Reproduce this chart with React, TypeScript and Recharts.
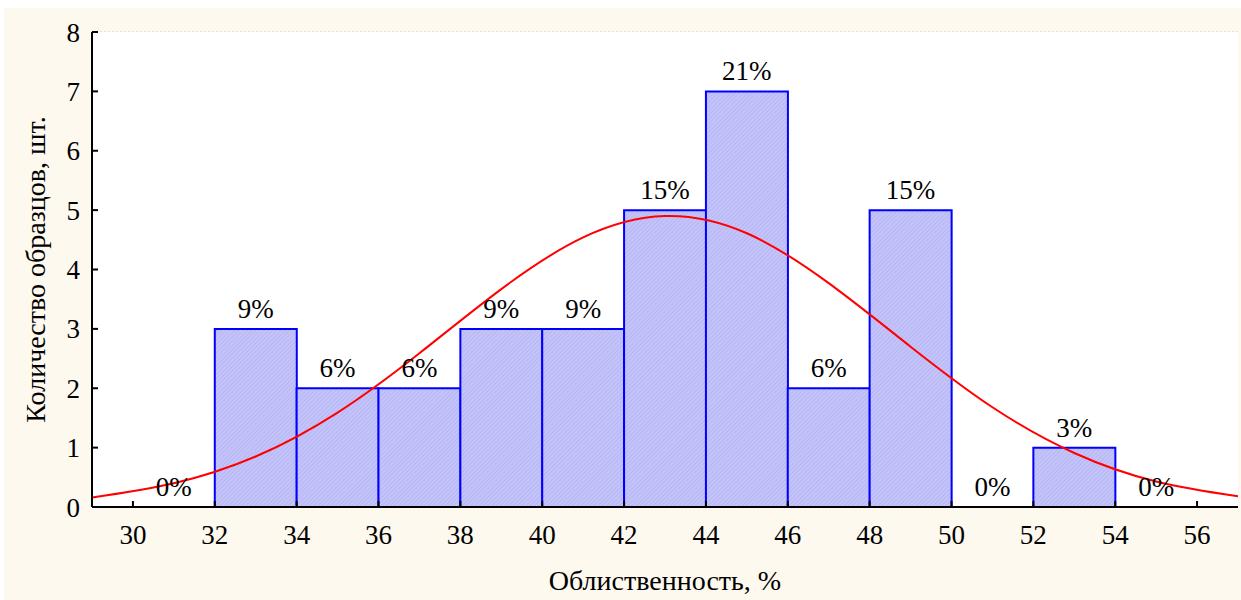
import { ComposedChart, Bar, Line, XAxis, YAxis, CartesianGrid, LabelList } from 'recharts';

// bin centres (2 %-wide bins), the fitted normal curve is sampled at the same x
const binCenters = [29, 31, 33, 35, 37, 39, 41, 43, 45, 47, 49, 51, 53, 55, 57];
const counts = [null, 0, 3, 2, 2, 3, 3, 5, 7, 2, 5, 0, 1, 0, null];
const percentLabels = ['', '0%', '9%', '6%', '6%', '9%', '9%', '15%', '21%', '6%', '15%', '0%', '3%', '0%', ''];
const normalCurve = [0.16, 0.4, 0.85, 1.59, 2.59, 3.67, 4.54, 4.9, 4.61, 3.77, 2.7, 1.68, 0.91, 0.43, 0.18];

const xTicks = [30, 32, 34, 36, 38, 40, 42, 44, 46, 48, 50, 52, 54, 56];
const yTicks = [0, 1, 2, 3, 4, 5, 6, 7, 8];

const data = binCenters.map((x, i) => ({
  x,
  count: counts[i],
  pct: percentLabels[i],
  normal: normalCurve[i],
}));

const font = '"Liberation Serif", "DejaVu Serif", "Times New Roman", serif';

const PercentLabel = (props: any) => {
  const { x, y, value } = props;
  if (!value) return null;
  return (
    <text x={x} y={y - 11} textAnchor="middle" style={{ fontFamily: font, fontSize: 27 }} fill="#000">
      {value}
    </text>
  );
};

const tickStyle = { fontFamily: font, fontSize: 27, fill: '#000' };

export default function App() {
  return (
    <div style={{ position: 'absolute', left: 0, top: 0, width: 1241, height: 600, background: '#fff', fontFamily: font }}>
      <div style={{ position: 'absolute', left: 4, top: 8, right: 0, bottom: 0, background: '#fdf9ef' }} />
      <div style={{ position: 'absolute', left: 0, top: 0 }}>
        <ComposedChart
          width={1241}
          height={600}
          data={data}
          margin={{ top: 32, right: 3, bottom: 0, left: 0 }}
          barCategoryGap={0}
          barGap={0}
          style={{ fontFamily: font }}
        >
          <defs>
            <pattern id="hatch" width="3" height="3" patternUnits="userSpaceOnUse" patternTransform="rotate(45)">
              <rect width="3" height="3" fill="#c4c4fa" />
              <line x1="0" y1="0" x2="0" y2="3" stroke="#a8a8ee" strokeWidth="1" />
            </pattern>
          </defs>
          <rect x={92} y={32} width={1146} height={475} fill="#fff" />
          <CartesianGrid vertical={false} stroke="#c8c8c8" strokeDasharray="2 2" />
          <XAxis
            dataKey="x"
            type="number"
            domain={[29, 57]}
            ticks={xTicks}
            allowDataOverflow
            height={93}
            axisLine={{ stroke: '#000', strokeWidth: 2 }}
            tickLine={{ stroke: '#000', strokeWidth: 2 }}
            tickSize={-6}
            tickMargin={24}
            tick={tickStyle}
            label={{ value: 'Облиственность, %', position: 'insideBottom', offset: 10, style: { fontFamily: font, fontSize: 28, fill: '#000' } }}
          />
          <XAxis
            xAxisId="top"
            orientation="top"
            dataKey="x"
            type="number"
            domain={[29, 57]}
            ticks={xTicks}
            allowDataOverflow
            height={0}
            axisLine={{ stroke: '#000', strokeWidth: 2 }}
            tickLine={{ stroke: '#000', strokeWidth: 2 }}
            tickSize={-6}
            tick={false}
          />
          <YAxis
            type="number"
            domain={[0, 8]}
            ticks={yTicks}
            width={92}
            axisLine={{ stroke: '#000', strokeWidth: 2 }}
            tickLine={{ stroke: '#000', strokeWidth: 2 }}
            tickSize={-6}
            tickMargin={18}
            tick={tickStyle}
            label={{ value: 'Количество образцов, шт.', angle: -90, position: 'insideLeft', offset: 35, style: { textAnchor: 'middle', fontFamily: font, fontSize: 28, fill: '#000' } }}
          />
          <YAxis
            yAxisId="right"
            orientation="right"
            type="number"
            domain={[0, 8]}
            ticks={yTicks}
            width={0}
            axisLine={{ stroke: '#000', strokeWidth: 2 }}
            tickLine={{ stroke: '#000', strokeWidth: 2 }}
            tickSize={-6}
            tick={false}
          />
          <Bar dataKey="count" fill="url(#hatch)" stroke="#0000ff" strokeWidth={2} isAnimationActive={false} />
          <Line
            dataKey="normal"
            type="natural"
            stroke="#ff0000"
            strokeWidth={2}
            dot={false}
            activeDot={false}
            isAnimationActive={false}
          />
          <Line
            dataKey="count"
            stroke="none"
            dot={false}
            activeDot={false}
            legendType="none"
            isAnimationActive={false}
          >
            <LabelList dataKey="pct" content={PercentLabel} />
          </Line>
        </ComposedChart>
      </div>
    </div>
  );
}
